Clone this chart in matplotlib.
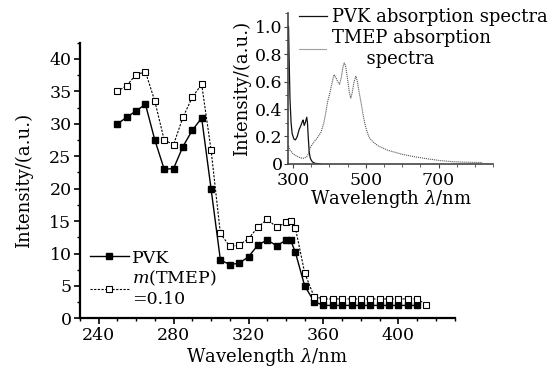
import matplotlib
matplotlib.use("Agg")
import matplotlib.pyplot as plt
from matplotlib.ticker import MultipleLocator, FixedLocator

plt.rcParams['font.family'] = ['DejaVu Serif']
plt.rcParams['mathtext.fontset'] = 'dejavuserif'

# ---------------- main plot data ----------------
pvk_x = [250, 255, 260, 265, 270, 275, 280, 285, 290, 295, 300, 305, 310, 315,
         320, 325, 330, 335, 340, 342.5, 345, 350, 355, 360, 365, 370, 375, 380,
         385, 390, 395, 400, 405, 410]
pvk_y = [30.0, 31.0, 32.0, 33.0, 27.5, 23.0, 23.1, 26.5, 29.0, 30.9, 20.0, 9.0,
         8.3, 8.5, 9.5, 11.3, 12.1, 11.2, 12.05, 12.05, 10.2, 5.0, 2.6, 2.0, 2.0,
         2.0, 2.0, 2.0, 2.0, 2.0, 2.0, 2.0, 2.0, 2.0]

tmep_x = [250, 255, 260, 265, 270, 275, 280, 285, 290, 295, 300, 305, 310, 315,
          320, 325, 330, 335, 340, 342.5, 345, 350, 355, 360, 365, 370, 375, 380,
          385, 390, 395, 400, 405, 410, 415]
tmep_y = [35.0, 35.9, 37.6, 38.0, 33.5, 27.5, 26.8, 31.0, 34.1, 36.1, 26.0, 13.1,
          11.1, 11.3, 12.3, 14.05, 15.3, 14.05, 14.8, 15.0, 14.0, 7.0, 3.35, 3.0,
          3.0, 3.0, 3.0, 3.0, 3.0, 3.0, 3.0, 3.0, 3.0, 3.0, 2.1]

main_xticks = [240, 280, 320, 360, 400]
main_yticks = [0, 5, 10, 15, 20, 25, 30, 35, 40]

# ---------------- inset data ----------------
abs_pvk_x = [288, 290, 292, 295, 298, 303, 307, 312, 317, 322, 326, 328, 331,
             334, 338, 340, 342, 345, 348, 352, 356, 360, 370, 380, 390, 400]
abs_pvk_y = [1.0, 0.72, 0.47, 0.30, 0.22, 0.18, 0.175, 0.20, 0.25, 0.28, 0.31,
             0.32, 0.28, 0.30, 0.34, 0.30, 0.20, 0.08, 0.04, 0.02, 0.01, 0.005,
             0.0, -0.004, -0.008, -0.01]

abs_tmep_x = [288, 292, 299, 305, 313, 320, 327, 333, 338, 342, 345, 350, 358,
              367, 377, 385, 390, 395, 400, 405, 410, 413, 418, 423, 428, 433,
              437, 441, 445, 450, 455, 459, 463, 468, 473, 477, 482, 487, 492,
              497, 503, 510, 520, 535, 560, 600, 632, 670, 705, 740, 780, 820]
abs_tmep_y = [0.13, 0.10, 0.078, 0.065, 0.053, 0.045, 0.04, 0.045, 0.053, 0.07,
              0.10, 0.13, 0.16, 0.19, 0.23, 0.30, 0.37, 0.45, 0.50, 0.56, 0.62,
              0.65, 0.63, 0.60, 0.58, 0.63, 0.70, 0.735, 0.71, 0.62, 0.52, 0.48,
              0.52, 0.60, 0.64, 0.60, 0.52, 0.45, 0.37, 0.30, 0.24, 0.19, 0.16,
              0.13, 0.10, 0.07, 0.053, 0.037, 0.024, 0.016, 0.012, 0.010]

inset_xticks = [300, 500, 700]
inset_yticks = [0, 0.2, 0.4, 0.6, 0.8, 1.0]
inset_yticklabels = ['0', '0.2', '0.4', '0.6', '0.8', '1.0']

fig = plt.figure(figsize=(5.51, 3.70), dpi=100)

# ---------------- main axes ----------------
ax = fig.add_axes([0.145, 0.1395, 0.68, 0.745])
ax.plot(pvk_x, pvk_y, color='black', lw=1.0, marker='s', ms=4.5,
        mfc='black', mec='black', label='PVK')
ax.plot(tmep_x, tmep_y, color='black', lw=0.8, ls=(0, (2, 1.3)), marker='s',
        ms=4.5, mfc='white', mec='black', mew=0.8,
        label='$m$(TMEP)\n=0.10')
ax.set_xlim(230, 430)
ax.set_ylim(0, 42.5)
for s in ['top', 'right']:
    ax.spines[s].set_visible(False)
for s in ['left', 'bottom']:
    ax.spines[s].set_linewidth(1.6)
ax.xaxis.set_major_locator(FixedLocator(main_xticks))
ax.xaxis.set_minor_locator(MultipleLocator(10))
ax.yaxis.set_major_locator(FixedLocator(main_yticks))
ax.yaxis.set_minor_locator(MultipleLocator(2.5))
ax.tick_params(which='major', direction='out', length=4, width=1.2,
               labelsize=12.5, pad=2)
ax.tick_params(which='minor', direction='out', length=2.5, width=1.0)
ax.set_xlabel('Wavelength $\\lambda$/nm', fontsize=13, labelpad=2)
ax.set_ylabel('Intensity/(a.u.)', fontsize=13, labelpad=12)
leg = ax.legend(loc='lower left', bbox_to_anchor=(0.0, 0.0), frameon=False,
                fontsize=12.5, handlelength=2.2, handletextpad=0.2,
                labelspacing=0.15, borderaxespad=0.2)

# ---------------- inset axes ----------------
ax2 = fig.add_axes([0.523, 0.557, 0.372, 0.408])
ax2.plot(abs_pvk_x, abs_pvk_y, color='#111111', lw=0.9,
         label='PVK absorption spectra')
ax2.plot(abs_tmep_x, abs_tmep_y, color='#555555', lw=0.8, ls=(0, (1, 0.8)),
         label='TMEP absorption\n      spectra')
ax2.set_xlim(287, 850)
ax2.set_ylim(0, 1.1)
for s in ['top', 'right']:
    ax2.spines[s].set_visible(False)
for s in ['left', 'bottom']:
    ax2.spines[s].set_linewidth(1.2)
    ax2.spines[s].set_color('#444444')
ax2.xaxis.set_major_locator(FixedLocator(inset_xticks))
ax2.xaxis.set_minor_locator(MultipleLocator(50))
ax2.set_yticks(inset_yticks)
ax2.set_yticklabels(inset_yticklabels)
ax2.yaxis.set_minor_locator(MultipleLocator(0.1))
ax2.tick_params(which='major', direction='out', length=3, width=0.8,
                labelsize=12.5, pad=1.0, color='#444444')
ax2.tick_params(which='minor', direction='out', length=2, width=0.6,
                color='#444444')
ax2.tick_params(axis='x', which='major', pad=3.0)
ax2.set_xlabel('Wavelength $\\lambda$/nm', fontsize=13, labelpad=-1)
ax2.set_ylabel('Intensity/(a.u.)', fontsize=13, labelpad=3)
ax2.patch.set_alpha(0)
ax2.legend(loc='upper left', bbox_to_anchor=(0.02, 1.08), frameon=False,
           fontsize=13, handlelength=1.5, handletextpad=0.3,
           labelspacing=0.15, borderaxespad=0.0)

fig.savefig('out.png', dpi=100)
